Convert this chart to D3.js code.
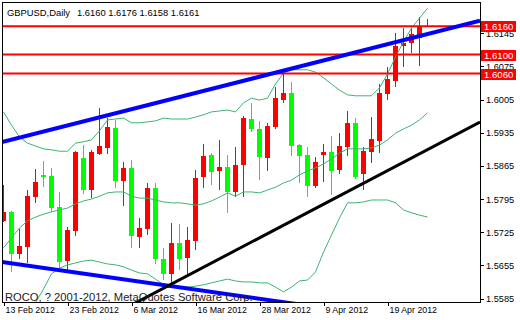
<!DOCTYPE html>
<html>
<head>
<meta charset="utf-8">
<style>
  body { margin: 0; background: #fff; }
  svg { display: block; font-family: "Liberation Sans", Arial, sans-serif; }
  .axis path { display: none; }
  .axis line { stroke: #000; }
  .axis text { fill: #000; }
</style>
<script src="https://d3js.org/d3.v7.min.js"></script>
</head>
<body>
<svg width="520" height="320"></svg>
<script>
  // daily bars, 13 Feb 2012 .. 26 Apr 2012
  const open = [1.5749,1.5768,1.5679,1.5694,1.5799,1.5846,1.5844,1.5778,1.5664,1.5728,
    1.5882,1.5814,1.5890,1.5903,1.5945,1.5833,1.5861,1.5715,1.5732,1.5818,
    1.5668,1.5637,1.5702,1.5671,1.5706,1.5842,1.5888,1.5854,1.5863,1.5810,
    1.5867,1.5964,1.5943,1.5882,1.5947,1.6004,1.6019,1.5909,1.5888,1.5823,
    1.5888,1.5894,1.5856,1.5905,1.5956,1.5848,1.5894,1.5918,1.6017,1.6044,
    1.6118,1.6125,1.6135,1.6160];
  const high = [1.5825,1.5770,1.5732,1.5814,1.5858,1.5875,1.5861,1.5810,1.5736,1.5896,
    1.5909,1.5899,1.5987,1.5966,1.5962,1.5873,1.5877,1.5755,1.5829,1.5829,
    1.5692,1.5744,1.5742,1.5736,1.5856,1.5911,1.5892,1.5920,1.5888,1.5905,
    1.5970,1.5998,1.5960,1.5956,1.6032,1.6061,1.6042,1.5911,1.5905,1.5884,
    1.5911,1.5928,1.5934,1.5981,1.5966,1.5905,1.5968,1.6038,1.6074,1.6146,
    1.6156,1.6156,1.6179,1.6176];
  const low = [1.5747,1.5641,1.5668,1.5660,1.5787,1.5820,1.5768,1.5649,1.5645,1.5717,
    1.5806,1.5797,1.5888,1.5890,1.5818,1.5780,1.5692,1.5692,1.5719,1.5658,
    1.5624,1.5618,1.5645,1.5635,1.5687,1.5818,1.5825,1.5814,1.5766,1.5799,
    1.5799,1.5937,1.5835,1.5854,1.5943,1.5998,1.5886,1.5829,1.5799,1.5818,
    1.5831,1.5804,1.5848,1.5886,1.5837,1.5814,1.5871,1.5892,1.6004,1.6032,
    1.6074,1.6103,1.6076,1.6158];
  const close = [1.5768,1.5679,1.5696,1.5801,1.5831,1.5842,1.5776,1.5662,1.5730,1.5894,
    1.5814,1.5894,1.5907,1.5947,1.5833,1.5861,1.5717,1.5734,1.5818,1.5668,
    1.5637,1.5702,1.5668,1.5709,1.5839,1.5886,1.5852,1.5863,1.5810,1.5867,
    1.5966,1.5943,1.5884,1.5949,1.6008,1.6019,1.5907,1.5886,1.5823,1.5873,
    1.5894,1.5854,1.5907,1.5956,1.5842,1.5896,1.5922,1.6019,1.6049,1.6118,
    1.6125,1.6144,1.6158,1.6161];

  // bollinger bands
  const bandUpper = [1.5979,1.5951,1.5926,1.5913,1.5907,1.5901,1.5899,1.5896,1.5896,1.5913,
    1.5916,1.5920,1.5939,1.5962,1.5964,1.5966,1.5956,1.5956,1.5958,1.5960,
    1.5966,1.5964,1.5964,1.5964,1.5968,1.5973,1.5979,1.5981,1.5983,1.5979,
    1.5998,1.6008,1.6004,1.6008,1.6038,1.6061,1.6068,1.6068,1.6068,1.6063,
    1.6051,1.6038,1.6025,1.6015,1.6013,1.6013,1.6013,1.6030,1.6059,1.6095,
    1.6127,1.6156,1.6177,1.6198];
  const bandMid = [1.5692,1.5713,1.5734,1.5749,1.5757,1.5763,1.5768,1.5772,1.5776,1.5785,
    1.5791,1.5795,1.5801,1.5808,1.5810,1.5810,1.5801,1.5797,1.5797,1.5793,
    1.5789,1.5787,1.5787,1.5785,1.5782,1.5785,1.5791,1.5799,1.5808,1.5801,
    1.5810,1.5810,1.5808,1.5814,1.5820,1.5829,1.5835,1.5846,1.5854,1.5861,
    1.5869,1.5880,1.5892,1.5901,1.5901,1.5901,1.5903,1.5909,1.5920,1.5934,
    1.5943,1.5951,1.5962,1.5977];
  const bandLower = [1.5405,1.5455,1.5502,1.5540,1.5576,1.5605,1.5637,1.5649,1.5656,1.5660,
    1.5664,1.5666,1.5662,1.5658,1.5656,1.5652,1.5645,1.5639,1.5637,1.5626,
    1.5614,1.5609,1.5609,1.5609,1.5611,1.5614,1.5618,1.5622,1.5626,1.5622,
    1.5620,1.5620,1.5618,1.5618,1.5609,1.5599,1.5609,1.5622,1.5624,1.5641,
    1.5683,1.5719,1.5755,1.5787,1.5787,1.5789,1.5793,1.5793,1.5793,1.5787,
    1.5772,1.5766,1.5761,1.5757];

  const levels = [1.6160, 1.6100, 1.6060];
  const priceTicks = [1.6145, 1.6075, 1.6005, 1.5935, 1.5865, 1.5795, 1.5725, 1.5655, 1.5585];
  const dateTicks = [0, 8, 16, 24, 32, 40, 48];
  const dateLabels = ['13 Feb 2012', '23 Feb 2012', '6 Mar 2012', '16 Mar 2012',
    '28 Mar 2012', '9 Apr 2012', '19 Apr 2012'];

  // trend lines: [bar index, price] anchors
  const channelTop = [[0, 1.5916], [53, 1.6143]];
  const channelBottom = [[0, 1.5662], [36, 1.5575]];
  const supportLine = [[21, 1.5615], [53, 1.5899]];

  const L = 2, R = 480, T = 2, B = 302;

  const x = d3.scaleLinear().domain([0, 53]).range([3, 427]);
  const y = d3.scaleLinear().domain([1.5585, 1.6145]).range([298.5, 33.3]);

  const svg = d3.select('svg');

  svg.append('defs').append('clipPath').attr('id', 'plot')
    .append('rect').attr('x', L).attr('y', T).attr('width', R - L).attr('height', B - T);

  const plot = svg.append('g').attr('clip-path', 'url(#plot)');

  const bars = d3.range(open.length).map(i => ({
    i: i, o: open[i], h: high[i], l: low[i], c: close[i]
  }));
  const col = d => d.c >= d.o ? '#ff0000' : '#00ff00';

  // wicks
  plot.selectAll('.wick').data(bars).enter().append('rect')
    .attr('class', 'wick')
    .attr('shape-rendering', 'crispEdges')
    .attr('x', d => x(d.i))
    .attr('width', 1)
    .attr('y', d => Math.round(y(d.h)))
    .attr('height', d => Math.max(1, Math.round(y(d.l)) - Math.round(y(d.h))))
    .attr('fill', col);

  // bodies
  plot.selectAll('.body').data(bars).enter().append('rect')
    .attr('class', 'body')
    .attr('shape-rendering', 'crispEdges')
    .attr('x', d => x(d.i) - 2)
    .attr('width', 5)
    .attr('y', d => Math.round(y(Math.max(d.o, d.c))))
    .attr('height', d => Math.max(1, Math.round(y(Math.min(d.o, d.c))) - Math.round(y(Math.max(d.o, d.c)))))
    .attr('fill', col);

  // bands
  const bandLine = d3.line().x((d, i) => x(i) + 0.5).y(d => y(d));
  [bandUpper, bandMid, bandLower].forEach(band => {
    plot.append('path')
      .attr('d', bandLine(band))
      .attr('fill', 'none')
      .attr('stroke', '#3cb371')
      .attr('stroke-width', 1);
  });

  // horizontal levels
  plot.selectAll('.level').data(levels).enter().append('line')
    .attr('x1', L).attr('x2', R)
    .attr('y1', d => y(d)).attr('y2', d => y(d))
    .attr('stroke', '#ff0000')
    .attr('stroke-width', 2);

  // trend lines extended across the plot
  const i0 = x.invert(L), i1 = x.invert(R);
  function extend(a) {
    const k = (a[1][1] - a[0][1]) / (a[1][0] - a[0][0]);
    return [i0, i1].map(i => [x(i), y(a[0][1] + k * (i - a[0][0]))]);
  }
  const seg = d3.line();
  plot.append('path').attr('d', seg(extend(channelTop)))
    .attr('stroke', '#0000ff').attr('stroke-width', 4).attr('fill', 'none');
  plot.append('path').attr('d', seg(extend(channelBottom)))
    .attr('stroke', '#0000ff').attr('stroke-width', 4).attr('fill', 'none');
  plot.append('path').attr('d', seg(extend(supportLine)))
    .attr('stroke', '#000').attr('stroke-width', 3).attr('fill', 'none');

  // copyright text
  svg.append('text')
    .attr('x', 5).attr('y', 300.5)
    .style('font-size', '11.2px')
    .attr('fill', '#222')
    .text('ROCO, ? 2001-2012, MetaQuotes Software Corp.');

  // frame
  svg.append('rect')
    .attr('x', L).attr('y', T).attr('width', R - L).attr('height', B - T)
    .attr('fill', 'none').attr('stroke', '#000')
    .attr('shape-rendering', 'crispEdges');

  // price axis
  svg.append('g').attr('class', 'axis')
    .attr('transform', `translate(${R},0)`)
    .attr('shape-rendering', 'crispEdges')
    .call(d3.axisRight(y).tickValues(priceTicks).tickSize(4).tickPadding(2)
      .tickFormat(d3.format('.4f')))
    .selectAll('text').style('font-size', '9.2px').attr('font-family', null);

  // date axis
  const xa = svg.append('g').attr('class', 'axis')
    .attr('transform', `translate(0,${B})`)
    .attr('shape-rendering', 'crispEdges')
    .call(d3.axisBottom(x).tickValues(dateTicks).tickSize(4).tickPadding(1)
      .tickFormat((d, i) => dateLabels[i]));
  xa.selectAll('.tick line').attr('transform', 'translate(0.5,0)');
  xa.selectAll('text').style('font-size', '8.8px').attr('font-family', null)
    .attr('text-anchor', 'start').attr('x', 2);

  // level price tags
  const tag = svg.selectAll('.tag').data(levels).enter().append('g')
    .attr('transform', d => `translate(${R + 1},${Math.round(y(d))})`);
  tag.append('rect')
    .attr('x', 0).attr('y', -5).attr('width', 35).attr('height', 11)
    .attr('fill', '#ff0000').attr('shape-rendering', 'crispEdges');
  tag.append('text')
    .attr('x', 3).attr('y', 4)
    .style('font-size', '9.6px')
    .attr('fill', '#fff')
    .text(d => d.toFixed(4));

  // title
  svg.append('text').attr('x', 7).attr('y', 15.5).style('font-size', '9.4px')
    .text('GBPUSD,Daily');
  svg.append('text').attr('x', 77).attr('y', 15.5).style('font-size', '9.4px')
    .text([open[53], high[53], low[53], close[53]].map(v => v.toFixed(4)).join(' '));
</script>
</body>
</html>
